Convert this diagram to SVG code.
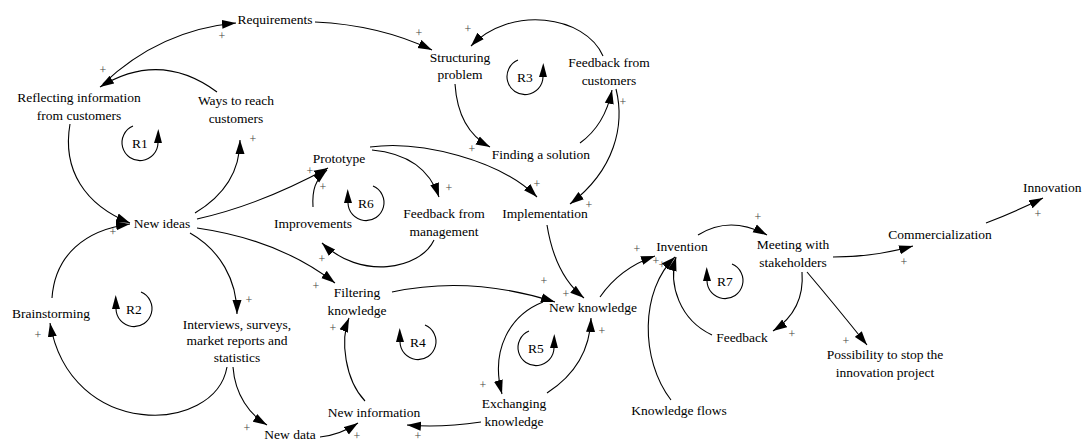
<svg xmlns="http://www.w3.org/2000/svg" width="1082" height="441" viewBox="0 0 1082 441">
<style>
text{font-family:"Liberation Serif","Times New Roman",serif;font-size:13.5px;fill:#000;text-anchor:middle}
.p{font-size:12px;fill:#444}
.c path{fill:none;stroke:#000;stroke-width:1.1;marker-end:url(#ah)}
.l path{fill:none;stroke:#000;stroke-width:1.1;marker-end:url(#la)}
</style>
<defs>
<marker id="ah" markerUnits="userSpaceOnUse" markerWidth="15" markerHeight="10" viewBox="0 0 15 10" refX="14" refY="5" orient="auto"><path d="M0,0.5 L14,5 L0,9.5 z" fill="#000"/></marker>
<marker id="la" markerUnits="userSpaceOnUse" markerWidth="15" markerHeight="10" viewBox="0 0 15 10" refX="0" refY="4.5" orient="auto"><path d="M0,0.5 L14,4.5 L0,8.5 z" fill="#000"/></marker>
</defs>
<rect width="1082" height="441" fill="#fff"/>
<g id="connectors" class="c">
<path d="M103,84 Q160,30 236,23"/>
<path d="M217,92 Q160,50 100,87"/>
<path d="M315,22 Q380,25 432,50"/>
<path d="M603,56 C585,15 510,5 471,46"/>
<path d="M455,84 Q458,130 490,147"/>
<path d="M580,143 Q605,125 612,90"/>
<path d="M616,89 C625,125 615,170 570,204"/>
<path d="M70,124 C62,170 85,205 130,223"/>
<path d="M52,298 C55,255 85,230 130,224"/>
<path d="M195,213 C225,195 240,170 240,140"/>
<path d="M197,219 Q260,205 328,168"/>
<path d="M313,207 C312,190 315,180 327,170"/>
<path d="M372,150 Q425,155 439,197"/>
<path d="M370,147 C420,140 500,160 537,197"/>
<path d="M434,240 C420,270 360,280 322,243"/>
<path d="M197,228 Q280,240 335,283"/>
<path d="M190,233 C220,250 237,280 237,314"/>
<path d="M227,367 C215,435 70,440 50,323"/>
<path d="M233,367 C235,395 250,415 267,425"/>
<path d="M320,437 Q340,435 358,423"/>
<path d="M365,401 C345,380 340,340 349,318"/>
<path d="M392,292 Q470,275 555,302"/>
<path d="M547,225 Q555,275 584,298"/>
<path d="M543,302 C510,315 490,350 502,394"/>
<path d="M547,393 C575,375 590,350 591,318"/>
<path d="M481,422 Q440,428 407,425"/>
<path d="M600,297 Q620,268 655,256"/>
<path d="M671,400 C640,360 640,290 675,257"/>
<path d="M712,335 C680,320 668,285 676,257"/>
<path d="M698,235 Q730,215 767,235"/>
<path d="M802,272 Q805,310 773,331"/>
<path d="M807,272 Q835,305 867,345"/>
<path d="M833,257 Q875,257 913,246"/>
<path d="M986,223 Q1015,212 1043,198"/>
</g>
<g id="loops" class="l">
<path d="M133,126 A18,18 0 1 0 158,143"/>
<path d="M141,292 A18,18 0 1 1 116,309"/>
<path d="M518,60 A18,18 0 1 0 543,77"/>
<path d="M425,325 A18,18 0 1 1 400,342"/>
<path d="M529,331 A18,18 0 1 0 554,348"/>
<path d="M373,186 A18,18 0 1 1 348,203"/>
<path d="M732,264 A18,18 0 1 1 707,281"/>
</g>
<g id="loop-labels">
<text x="140" y="147.5">R1</text>
<text x="134" y="313.5">R2</text>
<text x="525" y="81.5">R3</text>
<text x="418" y="346.5">R4</text>
<text x="536" y="352.5">R5</text>
<text x="366" y="207.5">R6</text>
<text x="725" y="285.5">R7</text>
</g>
<g id="requirements"><text x="275" y="23.5">Requirements</text></g>
<g id="reflecting"><text x="79" y="101.5">Reflecting information</text><text x="79" y="119.5">from customers</text></g>
<g id="ways"><text x="236" y="104.5">Ways to reach</text><text x="236" y="122.5">customers</text></g>
<g id="structuring"><text x="460" y="61.5">Structuring</text><text x="460" y="78.5">problem</text></g>
<g id="feedback-customers"><text x="609" y="66.5">Feedback from</text><text x="609" y="84.5">customers</text></g>
<g id="finding"><text x="541" y="158.5">Finding a solution</text></g>
<g id="prototype"><text x="339" y="162.5">Prototype</text></g>
<g id="feedback-management"><text x="444" y="217.5">Feedback from</text><text x="444" y="235.5">management</text></g>
<g id="implementation"><text x="545" y="217.5">Implementation</text></g>
<g id="improvements"><text x="313" y="227.5">Improvements</text></g>
<g id="new-ideas"><text x="162" y="227.5">New ideas</text></g>
<g id="brainstorming"><text x="51" y="317.5">Brainstorming</text></g>
<g id="interviews"><text x="237" y="328.5">Interviews, surveys,</text><text x="237" y="345">market reports and</text><text x="237" y="361.5">statistics</text></g>
<g id="new-data"><text x="290" y="439">New data</text></g>
<g id="new-information"><text x="374" y="416.5">New information</text></g>
<g id="filtering"><text x="357" y="296.5">Filtering</text><text x="357" y="314.5">knowledge</text></g>
<g id="new-knowledge"><text x="593" y="311.5">New knowledge</text></g>
<g id="exchanging"><text x="514" y="407.5">Exchanging</text><text x="514" y="425.5">knowledge</text></g>
<g id="invention"><text x="682" y="250.5">Invention</text></g>
<g id="meeting"><text x="793" y="248.5">Meeting with</text><text x="793" y="266.5">stakeholders</text></g>
<g id="commercialization"><text x="940" y="238.5">Commercialization</text></g>
<g id="feedback"><text x="742" y="341.5">Feedback</text></g>
<g id="possibility"><text x="885" y="358.5">Possibility to stop the</text><text x="885" y="376.5">innovation project</text></g>
<g id="knowledge-flows"><text x="679" y="414.5">Knowledge flows</text></g>
<g id="innovation"><text x="1023" y="191.5" style="text-anchor:start">Innovation</text></g>
<g id="polarities">
<text class="p" x="222" y="40">+</text>
<text class="p" x="103" y="74">+</text>
<text class="p" x="419" y="37">+</text>
<text class="p" x="468" y="33">+</text>
<text class="p" x="472" y="153">+</text>
<text class="p" x="623" y="106">+</text>
<text class="p" x="589" y="209">+</text>
<text class="p" x="253" y="143">+</text>
<text class="p" x="310" y="175">+</text>
<text class="p" x="323" y="191">+</text>
<text class="p" x="449" y="192">+</text>
<text class="p" x="537" y="188">+</text>
<text class="p" x="322" y="263">+</text>
<text class="p" x="316" y="290">+</text>
<text class="p" x="249" y="304">+</text>
<text class="p" x="38" y="339">+</text>
<text class="p" x="113" y="236">+</text>
<text class="p" x="247" y="432">+</text>
<text class="p" x="357" y="439.5">+</text>
<text class="p" x="333" y="332">+</text>
<text class="p" x="544" y="285">+</text>
<text class="p" x="566" y="298">+</text>
<text class="p" x="483" y="389">+</text>
<text class="p" x="602" y="335">+</text>
<text class="p" x="418" y="439.5">+</text>
<text class="p" x="637" y="253">+</text>
<text class="p" x="656" y="265">+</text>
<text class="p" x="662" y="269">+</text>
<text class="p" x="758" y="221">+</text>
<text class="p" x="792" y="338">+</text>
<text class="p" x="846" y="345">+</text>
<text class="p" x="904" y="266">+</text>
<text class="p" x="1038" y="218">+</text>
</g>
</svg>
